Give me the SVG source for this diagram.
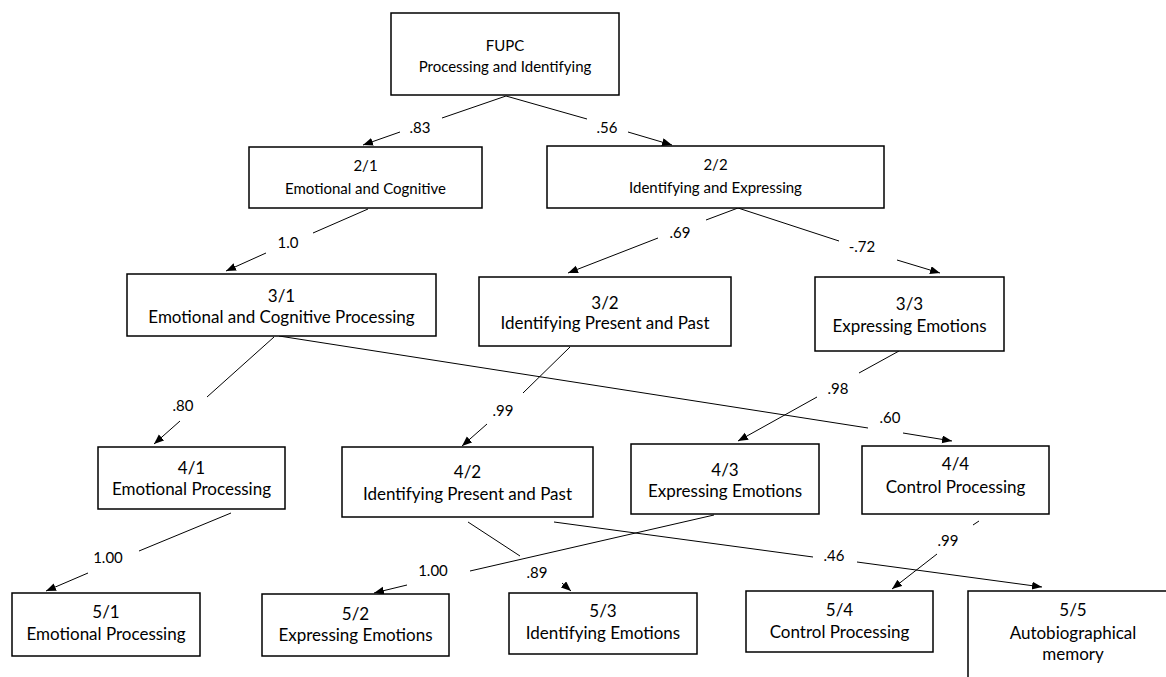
<svg xmlns="http://www.w3.org/2000/svg" width="1166" height="677" viewBox="0 0 1166 677">
<style>
.box{fill:#fff;stroke:#000;stroke-width:1.5}
.t{font-family:Lato,"Liberation Sans",sans-serif;font-size:17px;fill:#000;text-anchor:middle}
.ts{font-size:15px}
.lbl{font-family:Lato,"Liberation Sans",sans-serif;font-size:15px;fill:#000;text-anchor:middle}
.ln{stroke:#000;stroke-width:1;fill:none}
.ar{marker-end:url(#ah)}
</style>
<defs>
<marker id="ah" markerUnits="userSpaceOnUse" markerWidth="11" markerHeight="9" refX="10" refY="4" orient="auto">
<path d="M0,0 L10,4 L0,8 z" fill="#000"/>
</marker>
</defs>
<rect width="1166" height="677" fill="#fff"/>
<g id="connectors">
<line class="ln" x1="506" y1="96" x2="442" y2="118"/><line class="ln ar" x1="400" y1="132" x2="363" y2="145"/>
<line class="ln" x1="506" y1="96" x2="587" y2="119"/><line class="ln ar" x1="628" y1="132" x2="672" y2="145"/>
<line class="ln" x1="368" y1="209" x2="313" y2="233"/><line class="ln ar" x1="266" y1="253" x2="226" y2="271"/>
<line class="ln" x1="738" y1="208" x2="706" y2="220"/><line class="ln ar" x1="658" y1="238" x2="568" y2="273"/>
<line class="ln" x1="738" y1="208" x2="839" y2="241"/><line class="ln ar" x1="897" y1="260" x2="940" y2="273"/>
<line class="ln" x1="274" y1="337" x2="207" y2="397"/><line class="ln ar" x1="180" y1="421" x2="154" y2="444"/>
<line class="ln" x1="279" y1="336" x2="868" y2="428"/><line class="ln ar" x1="903" y1="433" x2="952" y2="441"/>
<line class="ln" x1="570" y1="347" x2="523" y2="393"/><line class="ln ar" x1="487" y1="424" x2="462" y2="446"/>
<line class="ln" x1="899" y1="351" x2="859" y2="373"/><line class="ln ar" x1="817" y1="397" x2="738" y2="441"/>
<line class="ln" x1="231" y1="513" x2="139" y2="551"/><line class="ln ar" x1="88" y1="573" x2="46" y2="591"/>
<line class="ln" x1="468" y1="522" x2="520" y2="556"/><line class="ln ar" x1="562" y1="583" x2="571" y2="591"/>
<line class="ln" x1="714" y1="515" x2="470" y2="571"/><line class="ln ar" x1="407" y1="585" x2="374" y2="593"/>
<line class="ln" x1="554" y1="522" x2="813" y2="557"/><line class="ln ar" x1="857" y1="562" x2="1042" y2="587"/>
<line class="ln" x1="979" y1="521" x2="973" y2="525"/><line class="ln ar" x1="937" y1="554" x2="892" y2="589"/>
<text class="lbl" x="420" y="133">.83</text>
<text class="lbl" x="607" y="133">.56</text>
<text class="lbl" x="288" y="248">1.0</text>
<text class="lbl" x="680" y="238">.69</text>
<text class="lbl" x="862" y="252">-.72</text>
<text class="lbl" x="183" y="411">.80</text>
<text class="lbl" x="890" y="423">.60</text>
<text class="lbl" x="503" y="416">.99</text>
<text class="lbl" x="838" y="394">.98</text>
<text class="lbl" x="108" y="563">1.00</text>
<text class="lbl" x="537" y="578">.89</text>
<text class="lbl" x="433" y="576">1.00</text>
<text class="lbl" x="834" y="561">.46</text>
<text class="lbl" x="948" y="546">.99</text>
</g>
<g id="n-fupc"><rect class="box" x="391" y="13" width="228" height="82"/><text class="t ts" x="505" y="50.5">FUPC</text><text class="t ts" x="505" y="71.5">Processing and Identifying</text></g>
<g id="n-2-1"><rect class="box" x="249" y="147" width="233" height="61"/><text class="t ts" x="365.5" y="171">2/1</text><text class="t ts" x="365.5" y="194">Emotional and Cognitive</text></g>
<g id="n-2-2"><rect class="box" x="547" y="146" width="337" height="62"/><text class="t ts" x="715.5" y="170">2/2</text><text class="t ts" x="715.5" y="193">Identifying and Expressing</text></g>
<g id="n-3-1"><rect class="box" x="127" y="274" width="309" height="62"/><text class="t" x="281.5" y="302">3/1</text><text class="t" x="281.5" y="323">Emotional and Cognitive Processing</text></g>
<g id="n-3-2"><rect class="box" x="479" y="277" width="252" height="69"/><text class="t" x="605" y="309">3/2</text><text class="t" x="605" y="329">Identifying Present and Past</text></g>
<g id="n-3-3"><rect class="box" x="815" y="277" width="189" height="74"/><text class="t" x="909.5" y="309.5">3/3</text><text class="t" x="909.5" y="332">Expressing Emotions</text></g>
<g id="n-4-1"><rect class="box" x="98" y="447" width="187" height="62"/><text class="t" x="191.5" y="473.5">4/1</text><text class="t" x="191.5" y="494.5">Emotional Processing</text></g>
<g id="n-4-2"><rect class="box" x="342" y="447" width="251" height="70"/><text class="t" x="467.5" y="478">4/2</text><text class="t" x="467.5" y="500">Identifying Present and Past</text></g>
<g id="n-4-3"><rect class="box" x="631" y="444" width="188" height="70"/><text class="t" x="725" y="475.5">4/3</text><text class="t" x="725" y="497">Expressing Emotions</text></g>
<g id="n-4-4"><rect class="box" x="862" y="446" width="187" height="68"/><text class="t" x="955.5" y="470">4/4</text><text class="t" x="955.5" y="493">Control Processing</text></g>
<g id="n-5-1"><rect class="box" x="12" y="593" width="188" height="63"/><text class="t" x="106" y="618">5/1</text><text class="t" x="106" y="640">Emotional Processing</text></g>
<g id="n-5-2"><rect class="box" x="262" y="594" width="187" height="62"/><text class="t" x="355.5" y="620">5/2</text><text class="t" x="355.5" y="641">Expressing Emotions</text></g>
<g id="n-5-3"><rect class="box" x="509" y="593" width="188" height="61"/><text class="t" x="603" y="617">5/3</text><text class="t" x="603" y="639">Identifying Emotions</text></g>
<g id="n-5-4"><rect class="box" x="746" y="591" width="187" height="61"/><text class="t" x="839.5" y="615.5">5/4</text><text class="t" x="839.5" y="637.5">Control Processing</text></g>
<g id="n-5-5"><rect class="box" x="968" y="591" width="212" height="110"/><text class="t" x="1073" y="615.5">5/5</text><text class="t" x="1073" y="638.5">Autobiographical</text><text class="t" x="1073" y="660">memory</text></g>
</svg>
